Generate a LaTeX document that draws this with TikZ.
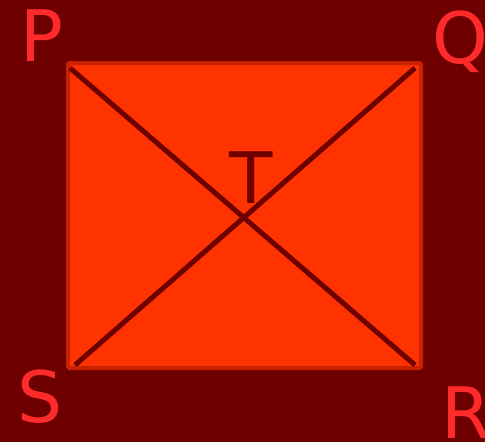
\documentclass[tikz,border=0pt]{standalone}
\usepackage{fontspec}
\setmainfont{DejaVu Sans}
\usepackage{tikz}
\usetikzlibrary{positioning,calc}
\definecolor{bgRed}{RGB}{110,0,0}
\definecolor{boxFill}{RGB}{255,51,0}
\definecolor{boxEdge}{RGB}{200,34,0}
\definecolor{labelRed}{RGB}{255,42,42}

\begin{document}
\begin{tikzpicture}[
        x=1pt, y=-1pt,
        letter/.style={anchor=base, inner sep=0pt, text=labelRed,
          font=\fontsize{71}{71}\selectfont},
        diag/.style={draw=bgRed, line width=5pt}
      ]
        \fill[bgRed] (0,0) rectangle (485,442);
        \useasboundingbox (0,0) rectangle (485,442);
        % Square
        \coordinate (p) at (68,63);
        \coordinate (r) at (421,368);
        \draw[fill=boxFill, draw=boxEdge, line width=4pt,
          rounded corners=1.5pt] (p) rectangle (r);
        % Diagonals
        \coordinate (d1) at (70,68);
        \coordinate (d2) at (415,68);
        \coordinate (d3) at (415,365);
        \coordinate (d4) at (75,365);
        \draw[diag] (d1) -- (d3);
        \draw[diag] (d2) -- (d4);
        % Labels
        \node[letter] (lP) at (42,61) {P};
        \node[letter] (lQ) at (460,63) {Q};
        \node[letter] (lS) at (40,422) {S};
        \node[letter] (lR) at (466,438) {R};
        \node[letter, text=bgRed] (lT) at (251,203) {T};
      \end{tikzpicture}
\end{document}
